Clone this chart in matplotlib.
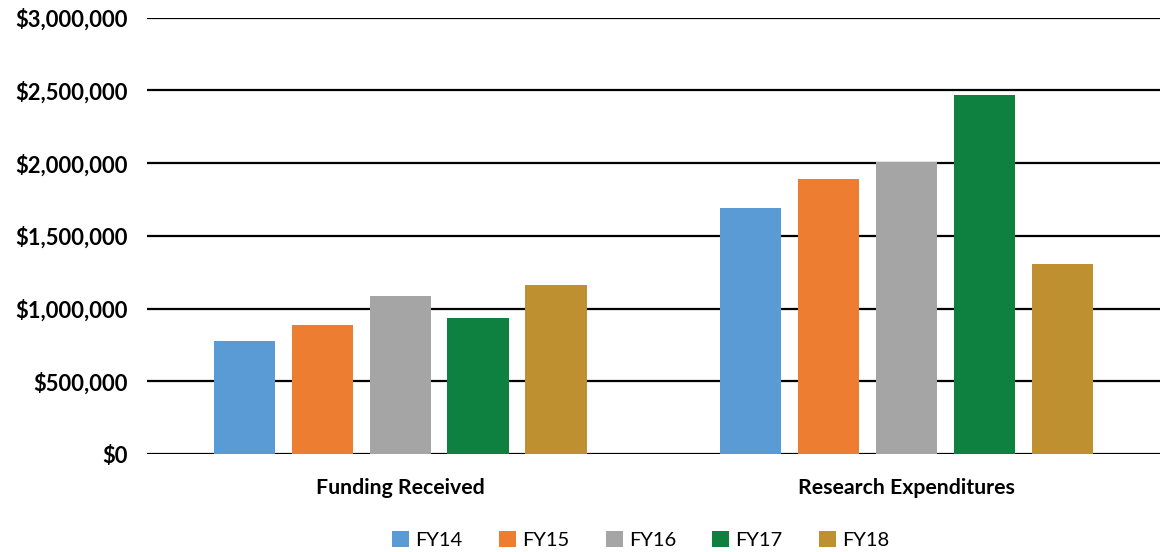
import matplotlib

matplotlib.use("Agg")

import matplotlib.pyplot as plt
import numpy as np
from matplotlib.ticker import FuncFormatter

categories = ["Funding Received", "Research Expenditures"]
years = ["FY14", "FY15", "FY16", "FY17", "FY18"]
values = {
    "FY14": [775000, 1690000],
    "FY15": [885000, 1893000],
    "FY16": [1087000, 2005000],
    "FY17": [938000, 2470000],
    "FY18": [1160000, 1305000],
}
colors = ["#5B9BD5", "#ED7D31", "#A5A5A5", "#0E8040", "#BF9030"]

plt.rcParams["font.family"] = ["Lato", "DejaVu Sans"]

fig = plt.figure(figsize=(11.63, 5.52), dpi=100)
ax = fig.add_axes([0.1264, 0.1775, 0.8706, 0.7905])

x = np.arange(len(categories))
step = 0.154
width = 0.121
for i, yr in enumerate(years):
    ax.bar(x + (i - 2) * step, values[yr], width=width, color=colors[i],
           label=yr, zorder=3)

ax.set_xlim(-0.5, 1.5)
ax.set_ylim(0, 3000000)
ax.set_yticks(np.arange(0, 3000001, 500000))
ax.yaxis.set_major_formatter(FuncFormatter(lambda v, _: f"${v:,.0f}"))
ax.grid(axis="y", color="black", lw=1.6, zorder=1)
ax.tick_params(axis="y", length=0, pad=14, labelsize=15.8)
ax.tick_params(axis="x", length=0, pad=17, labelsize=15.3)
ax.set_xticks(x)
ax.set_xticklabels(categories, fontweight="bold")
for lab in ax.get_yticklabels():
    lab.set_fontweight("bold")
for s in ax.spines.values():
    s.set_visible(False)

fig.legend(loc="center", bbox_to_anchor=(0.551, 0.022), ncol=5, frameon=False,
           fontsize=14.5, handlelength=0.85, handleheight=0.85, handletextpad=0.3,
           columnspacing=1.8)

fig.savefig("out.png", dpi=100)
